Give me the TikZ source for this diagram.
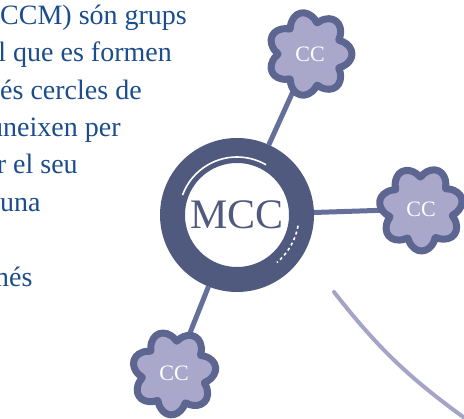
\documentclass[tikz,border=0pt]{standalone}
\usepackage{fontspec}
\setmainfont{Liberation Serif}
\usepackage{xcolor}
\usepackage{tikz}
\definecolor{ink}{HTML}{1B4C8C}
\definecolor{slate}{HTML}{4F5A7E}
\definecolor{petal}{HTML}{A9A8CB}
\definecolor{rim}{HTML}{5D6690}
\definecolor{stem}{HTML}{65709A}
\definecolor{trail}{HTML}{A3A4C6}
\pgfdeclarelayer{links}
\pgfdeclarelayer{petals}
\pgfsetlayers{links,petals,main}
\tikzset{
  txt/.style={text=ink, font=\fontsize{28}{28}\selectfont, anchor=base west, inner sep=0pt},
  hub/.style={circle, draw=slate, line width=25pt, minimum size=129pt, inner sep=0pt,
    text=slate, font=\fontsize{42}{42}\selectfont},
  cc/.style={circle, minimum size=76pt, inner sep=0pt, text=white, font=\fontsize{22}{22}\selectfont},
  flower/.style={draw=rim, fill=petal, line width=7pt, line join=round},
  link/.style={draw=stem, line width=5pt},
  shine/.style={draw=white, line width=1.6pt},
  trailline/.style={draw=trail, line width=4pt, line cap=round},
}

\begin{document}
\begin{tikzpicture}[x=1pt, y=-1pt]
  \useasboundingbox (0,0) rectangle (464,419);
  \clip (0,0) rectangle (464,419);
  % text block, cut at the left
  \node[txt] (l1) at (0,25) {CCM) són grups};
  \node[txt] (l2) at (13,62) {\llap{l }que es formen};
  \node[txt] (l3) at (0,100) {és cercles de};
  \node[txt] (l4) at (3,137) {\llap{u}neixen per};
  \node[txt] (l5) at (13,174) {\llap{r }el seu};
  \node[txt] (l6) at (0,212) {una};
  \node[txt] (l8) at (9,287) {\llap{m}és};
  % hub and circles
  \node[hub] (hub) at (237,215) {MCC};
  \node[cc] (cc1) at (310,54) {CC};
  \node[cc] (cc2) at (421,209) {CC};
  \node[cc] (cc3) at (174,373) {CC};
  \begin{pgfonlayer}{petals}
    \foreach \n/\t in {cc1/0,cc2/14,cc3/8}
      \draw[flower, shift={(\n.center)}, rotate=\t]
        plot[smooth cycle, samples=70, domain=0:354.857] (\x:{32+10*abs(cos(3.5*\x))});
  \end{pgfonlayer}
  \begin{pgfonlayer}{links}
    \draw[link] (hub) -- (cc1);
    \draw[link] (hub) -- (cc2);
    \draw[link] (hub) -- (cc3);
  \end{pgfonlayer}
  % highlights on the ring
  \draw[shine] ([shift={(-60:58)}]hub.center) arc[start angle=-60, end angle=-160, radius=58];
  \draw[shine, dashed] ([shift={(10:62)}]hub.center) arc[start angle=10, end angle=50, radius=62];
  % loose curve
  \coordinate (t1) at (334,292);
  \coordinate (t2) at (466,419);
  \draw[trailline] (t1) to[bend right=8] (t2);
\end{tikzpicture}
\end{document}
